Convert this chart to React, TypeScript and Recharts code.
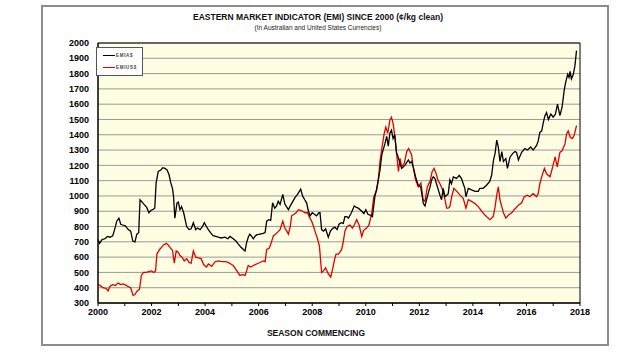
import React from 'react';
import { LineChart, Line, XAxis, YAxis, CartesianGrid, ReferenceArea } from 'recharts';

const audYears = [
  2000.00, 2000.06, 2000.15, 2000.26, 2000.35, 2000.45, 2000.55, 2000.62, 2000.70, 2000.78, 2000.85, 2000.92,
  2001.02, 2001.13, 2001.22, 2001.30, 2001.38, 2001.45, 2001.52, 2001.57, 2001.65, 2001.72, 2001.82, 2001.90, 2001.97,
  2002.04, 2002.12, 2002.17, 2002.25, 2002.35, 2002.42, 2002.50, 2002.58, 2002.65, 2002.72, 2002.78, 2002.82, 2002.87, 2002.95,
  2003.00, 2003.06, 2003.12, 2003.20, 2003.31, 2003.40, 2003.48, 2003.56, 2003.65, 2003.72, 2003.81, 2003.90, 2003.97,
  2004.05, 2004.12, 2004.20, 2004.30, 2004.40, 2004.49, 2004.60, 2004.74, 2004.85, 2004.93,
  2005.05, 2005.15, 2005.24, 2005.34, 2005.43, 2005.49, 2005.55, 2005.62, 2005.67, 2005.74, 2005.80, 2005.86, 2005.92,
  2006.05, 2006.17, 2006.24, 2006.30, 2006.38, 2006.45, 2006.52, 2006.60, 2006.67, 2006.73, 2006.80, 2006.90, 2006.98,
  2007.04, 2007.11, 2007.18, 2007.26, 2007.36, 2007.45, 2007.52, 2007.57, 2007.64, 2007.72, 2007.79, 2007.86, 2007.92,
  2008.00, 2008.08, 2008.16, 2008.25, 2008.29, 2008.35, 2008.42, 2008.50, 2008.60, 2008.68, 2008.78, 2008.85, 2008.93,
  2009.00, 2009.08, 2009.16, 2009.22, 2009.29, 2009.35, 2009.45, 2009.57, 2009.65, 2009.72, 2009.85, 2009.93,
  2010.00, 2010.08, 2010.16, 2010.25, 2010.28, 2010.34, 2010.40, 2010.53, 2010.60, 2010.72, 2010.78, 2010.84, 2010.90, 2010.96,
  2011.02, 2011.08, 2011.15, 2011.21, 2011.27, 2011.34, 2011.46, 2011.59, 2011.65, 2011.71, 2011.77, 2011.86, 2011.96,
  2012.05, 2012.15, 2012.21, 2012.27, 2012.35, 2012.40, 2012.46, 2012.52, 2012.58, 2012.64, 2012.71, 2012.77, 2012.83, 2012.89, 2012.96,
  2013.02, 2013.08, 2013.14, 2013.20, 2013.27, 2013.39, 2013.49, 2013.57, 2013.64, 2013.70, 2013.74, 2013.83, 2013.95,
  2014.08, 2014.20, 2014.26, 2014.38, 2014.51, 2014.63, 2014.70, 2014.77, 2014.83, 2014.89, 2014.95,
  2015.01, 2015.08, 2015.14, 2015.23, 2015.29, 2015.39, 2015.50, 2015.57, 2015.63, 2015.70, 2015.82, 2015.94,
  2016.04, 2016.16, 2016.25, 2016.38, 2016.44, 2016.50, 2016.57, 2016.63, 2016.69, 2016.75, 2016.82, 2016.91,
  2017.00, 2017.08, 2017.16, 2017.25, 2017.33, 2017.41, 2017.46, 2017.54, 2017.59, 2017.63, 2017.68, 2017.75, 2017.81, 2017.87,
];
const audValues = [
  715, 690, 715, 720, 735, 730, 740, 780, 835, 855, 815, 810,
  805, 780, 770, 705, 700, 750, 760, 975, 960, 945, 925, 890, 905,
  910, 920, 1085, 1160, 1170, 1185, 1180, 1170, 1140, 1085, 1050, 1000, 855, 955,
  960, 910, 930, 890, 800, 780, 785, 825, 780, 790, 780, 800, 825,
  800, 780, 760, 740, 735, 730, 725, 730, 720, 735,
  720, 705, 685, 665, 650, 640, 695, 735, 750, 735, 720, 735, 745,
  750, 755, 760, 835, 845, 840, 955, 920, 935, 965, 945, 1010, 945,
  930, 910, 935, 960, 990, 1010, 1030, 1045, 1000, 975, 955, 900, 870,
  890, 880, 870, 890, 890, 780, 770, 785, 730, 770, 790, 795, 780,
  815, 825, 820, 865, 865, 855, 885, 935, 925, 920, 900, 885,
  910, 880, 875, 865, 910, 995, 1040, 1170, 1270, 1345, 1390, 1325, 1410, 1430,
  1375, 1400, 1280, 1255, 1215, 1180, 1200, 1235, 1215, 1225, 1190, 1125, 1070,
  1060, 950, 935, 975, 1030, 1060, 1105, 1125, 1115, 1080, 1040, 1005, 975, 1050, 995,
  1005, 1015, 1105, 1080, 1125, 1115, 1135, 1115, 1080, 1050, 995, 1050, 1040,
  1030, 1030, 1050, 1050, 1070, 1095, 1135, 1235, 1280, 1365, 1320,
  1225, 1290, 1225, 1245, 1180, 1255, 1280, 1290, 1285, 1235, 1285, 1310,
  1300, 1320, 1300, 1330, 1360, 1415, 1425, 1480, 1525, 1545, 1500, 1535,
  1515, 1535, 1600, 1525, 1580, 1690, 1740, 1795, 1775, 1815, 1765, 1795, 1850, 1950,
];

const usdYears = [
  2000.00, 2000.08, 2000.18, 2000.30, 2000.38, 2000.45, 2000.55, 2000.65, 2000.75, 2000.85, 2000.95,
  2001.05, 2001.15, 2001.22, 2001.31, 2001.38, 2001.45, 2001.55, 2001.62, 2001.70, 2001.80, 2001.90,
  2002.00, 2002.08, 2002.15, 2002.20, 2002.30, 2002.38, 2002.45, 2002.55, 2002.62, 2002.70, 2002.78, 2002.85, 2002.92,
  2003.00, 2003.06, 2003.14, 2003.22, 2003.31, 2003.40, 2003.48, 2003.56, 2003.65, 2003.75, 2003.85, 2003.95,
  2004.05, 2004.12, 2004.25, 2004.37, 2004.50, 2004.62, 2004.75, 2004.86, 2004.96,
  2005.05, 2005.15, 2005.30, 2005.40, 2005.49, 2005.55, 2005.61, 2005.70, 2005.80, 2005.92,
  2006.05, 2006.17, 2006.24, 2006.30, 2006.40, 2006.48, 2006.55, 2006.63, 2006.72, 2006.80, 2006.90, 2006.98,
  2007.05, 2007.11, 2007.18, 2007.23, 2007.32, 2007.40, 2007.48, 2007.56, 2007.64, 2007.73, 2007.82, 2007.90, 2007.98,
  2008.05, 2008.12, 2008.19, 2008.27, 2008.35, 2008.42, 2008.50, 2008.60, 2008.69, 2008.76, 2008.83, 2008.89, 2008.98,
  2009.10, 2009.16, 2009.22, 2009.30, 2009.41, 2009.50, 2009.57, 2009.66, 2009.75, 2009.85, 2009.92,
  2010.03, 2010.12, 2010.22, 2010.30, 2010.41, 2010.47, 2010.53, 2010.60, 2010.69, 2010.75, 2010.82, 2010.90, 2010.96,
  2011.02, 2011.09, 2011.15, 2011.22, 2011.28, 2011.34, 2011.44, 2011.53, 2011.60, 2011.71, 2011.77, 2011.86, 2011.96,
  2012.06, 2012.14, 2012.21, 2012.30, 2012.40, 2012.48, 2012.55, 2012.62, 2012.70, 2012.77, 2012.87, 2012.96,
  2013.02, 2013.08, 2013.14, 2013.21, 2013.29, 2013.40, 2013.52, 2013.64, 2013.74, 2013.83, 2013.95,
  2014.08, 2014.20, 2014.33, 2014.45, 2014.57, 2014.64, 2014.70, 2014.76, 2014.83, 2014.89, 2014.95,
  2015.01, 2015.08, 2015.14, 2015.23, 2015.33, 2015.45, 2015.57, 2015.70, 2015.82, 2015.92,
  2016.03, 2016.13, 2016.25, 2016.38, 2016.44, 2016.50, 2016.57, 2016.67, 2016.75, 2016.88, 2016.98,
  2017.07, 2017.15, 2017.25, 2017.33, 2017.44, 2017.50, 2017.56, 2017.63, 2017.71, 2017.78, 2017.87,
];
const usdValues = [
  420, 415, 400, 395, 380, 410, 420, 415, 430, 420, 425,
  415, 405, 400, 350, 355, 375, 390, 480, 500, 500, 505,
  510, 500, 510, 620, 650, 665, 680, 690, 680, 660, 645, 560, 640,
  630, 610, 600, 575, 590, 565, 560, 640, 600, 595, 590, 550,
  535, 555, 540, 570, 575, 570, 570, 565, 555,
  545, 520, 480, 485, 480, 510, 545, 535, 545, 555,
  565, 575, 570, 650, 660, 700, 740, 750, 765, 780, 835, 790,
  770, 750, 800, 870, 880, 890, 910, 905, 900, 890, 890, 860, 835,
  800, 760, 725, 670, 500, 510, 530, 490, 470, 520, 580, 620, 620,
  650, 700, 770, 800, 810, 790, 810, 845, 810, 735, 775,
  790, 810, 885, 995, 1040, 1105, 1225, 1310, 1410, 1450, 1410, 1495, 1515,
  1475, 1385, 1280, 1160, 1245, 1190, 1215, 1290, 1310, 1270, 1190, 1105, 1060,
  1085, 975, 965, 1060, 1095, 1160, 1180, 1150, 1100, 1080, 1040, 975,
  920, 920, 930, 995, 1050, 1030, 1005, 985, 920, 975, 965,
  950, 930, 900, 875, 855, 845, 855, 865, 930, 1005, 1060,
  975, 930, 890, 855, 875, 890, 915, 940, 955, 995,
  1005, 995, 1015, 995, 1015, 1080, 1125, 1180, 1145, 1125, 1190,
  1255, 1190, 1285, 1295, 1340, 1405, 1425, 1385, 1375, 1395, 1460,
];

const yTicks = [300, 400, 500, 600, 700, 800, 900, 1000, 1100, 1200, 1300, 1400, 1500, 1600, 1700, 1800, 1900, 2000];
const xTicks = [2000, 2001, 2002, 2003, 2004, 2005, 2006, 2007, 2008, 2009, 2010, 2011, 2012, 2013, 2014, 2015, 2016, 2017, 2018];
const xLabelYears = [2000, 2002, 2004, 2006, 2008, 2010, 2012, 2014, 2016, 2018];
const seriesNames = ['EMIA$', 'EMIUS$'];
const seriesColors = ['#000000', '#e00000'];
const title = 'EASTERN MARKET INDICATOR (EMI) SINCE 2000 (¢/kg clean)';
const subtitle = '(In Australian and United States Currencies)';
const xTitle = 'SEASON COMMENCING';

const audData = audYears.map((x, i) => ({ x, v: audValues[i] }));
const usdData = usdYears.map((x, i) => ({ x, v: usdValues[i] }));

const FONT = 'Arial, "Liberation Sans", sans-serif';

export default function App() {
  return (
    <div style={{ position: 'absolute', left: 0, top: 0, width: 640, height: 360, background: '#fff', fontFamily: FONT, overflow: 'hidden' }}>
      <div style={{ position: 'absolute', left: 41, top: 5, width: 568, height: 341, border: '2px solid #8c8c8c', boxSizing: 'border-box' }} />
      <div style={{ position: 'absolute', left: 0, width: 636, top: 12, textAlign: 'center', fontSize: 8.5, fontWeight: 'bold', color: '#111' }}>{title}</div>
      <div style={{ position: 'absolute', left: 0, width: 636, top: 24, textAlign: 'center', fontSize: 6.5, color: '#222' }}>{subtitle}</div>
      <div style={{ position: 'absolute', left: 0, width: 632, top: 328, textAlign: 'center', fontSize: 8.5, fontWeight: 'bold', color: '#111' }}>{xTitle}</div>
      <div style={{ position: 'absolute', left: 0, top: 0 }}>
        <LineChart width={640} height={360} margin={{ top: 43, right: 60, bottom: 27, left: 0 }}>
          <CartesianGrid vertical={false} stroke="#9a9a9a" fill="#FFFEE2" fillOpacity={1} />
          <XAxis
            type="number"
            dataKey="x"
            domain={[2000, 2018]}
            ticks={xTicks}
            allowDataOverflow
            height={30}
            tickSize={3}
            tickMargin={3}
            axisLine={{ stroke: '#000' }}
            tickLine={{ stroke: '#000' }}
            tick={{ fontSize: 9, fontWeight: 'bold', fill: '#000', fontFamily: FONT }}
            tickFormatter={(v: number) => (xLabelYears.includes(v) ? String(v) : '')}
            interval={0}
          />
          <YAxis
            type="number"
            domain={[300, 2000]}
            ticks={yTicks}
            width={98}
            tickSize={6}
            tickMargin={3}
            tickLine={false}
            axisLine={{ stroke: '#000' }}
            tick={{ fontSize: 9, fontWeight: 'bold', fill: '#000', fontFamily: FONT }}
            interval={0}
          />
          <ReferenceArea x1={2000} x2={2018} y1={300} y2={2000} fill="none" stroke="#000" strokeWidth={1} ifOverflow="visible" />
          <Line data={usdData} dataKey="v" name={seriesNames[1]} stroke={seriesColors[1]} strokeWidth={1.3} dot={false} isAnimationActive={false} type="linear" />
          <Line data={audData} dataKey="v" name={seriesNames[0]} stroke={seriesColors[0]} strokeWidth={1.3} dot={false} isAnimationActive={false} type="linear" />
        </LineChart>
      </div>
      <div style={{ position: 'absolute', left: 96, top: 47, width: 47, height: 29, border: '1px solid #555', background: '#fff', boxSizing: 'border-box' }}>
        {seriesNames.map((name, i) => (
          <React.Fragment key={name}>
            <div style={{ position: 'absolute', left: 6, top: 7 + i * 12, width: 12, height: 1.3, background: seriesColors[i] }} />
            <div style={{ position: 'absolute', left: 19, top: 5 + i * 12, fontSize: 4.5, fontWeight: 'bold', letterSpacing: 0.7, color: '#444', lineHeight: '5px', whiteSpace: 'nowrap' }}>{name}</div>
          </React.Fragment>
        ))}
      </div>
    </div>
  );
}
